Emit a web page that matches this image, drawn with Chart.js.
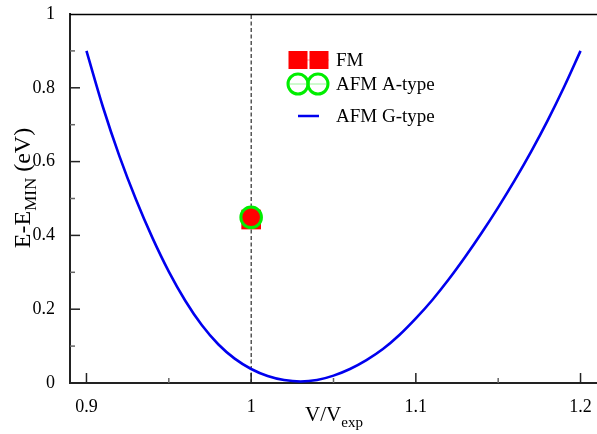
<!DOCTYPE html>
<html>
<head>
<meta charset="utf-8">
<script src="https://cdn.jsdelivr.net/npm/chart.js@4"></script>
<style>
  html, body { margin: 0; padding: 0; overflow: hidden; background: #fff; }
  canvas { display: block; }
</style>
</head>
<body>
<canvas id="eos" width="597" height="434"></canvas>
<script>
// volume ratio and energy
const volRatio = [0.90, 0.91, 0.92, 0.93, 0.94, 0.95, 0.96, 0.97, 0.98, 0.99,
                  1.00, 1.01, 1.02, 1.03, 1.04, 1.05, 1.06, 1.07, 1.08, 1.09,
                  1.10, 1.11, 1.12, 1.13, 1.14, 1.15, 1.16, 1.17, 1.18, 1.19, 1.20];
const gTypeE = [0.900, 0.748, 0.615, 0.498, 0.394, 0.302, 0.223, 0.157, 0.105, 0.066,
                0.038, 0.019, 0.008, 0.004, 0.008, 0.020, 0.038, 0.062, 0.092, 0.130,
                0.175, 0.225, 0.281, 0.342, 0.407, 0.476, 0.549, 0.627, 0.711, 0.802, 0.900];

// single points at the experimental volume
const fmPoint = [1.0, 0.443];
const aTypePoint = [1.0, 0.449];
const expLine = [1.0, 0.0, 1.0];   // x, y from, y to

const xTicks = [0.9, 1.0, 1.1, 1.2];
const xMinor = [0.95, 1.05, 1.15];
const yTicks = [0, 0.2, 0.4, 0.6, 0.8, 1.0];
const yMinor = [0.1, 0.3, 0.5, 0.7, 0.9];

const serif = "'Liberation Serif', 'Times New Roman', serif";

const decor = {
  id: 'decor',
  afterDraw(chart) {
    const ctx = chart.ctx;
    const a = chart.chartArea;
    const xs = chart.scales.x, ys = chart.scales.y;
    ctx.save();

    // top frame line
    ctx.strokeStyle = '#000';
    ctx.lineWidth = 1.5;
    ctx.beginPath();
    ctx.moveTo(a.left, a.top + 0.5);
    ctx.lineTo(a.right, a.top + 0.5);
    ctx.stroke();

    // inward ticks
    function tick(isX, v, len, col) {
      ctx.strokeStyle = col;
      ctx.lineWidth = 1.5;
      ctx.beginPath();
      if (isX) {
        const p = xs.getPixelForValue(v);
        ctx.moveTo(p, a.bottom);
        ctx.lineTo(p, a.bottom - len);
      } else {
        const p = ys.getPixelForValue(v);
        ctx.moveTo(a.left, p);
        ctx.lineTo(a.left + len, p);
      }
      ctx.stroke();
    }
    xTicks.forEach(v => tick(true, v, 10, '#222'));
    xMinor.forEach(v => tick(true, v, 5, '#666'));
    yTicks.slice(1, -1).forEach(v => tick(false, v, 10, '#222'));
    yMinor.forEach(v => tick(false, v, 5, '#666'));

    // axis titles with subscripts
    ctx.fillStyle = '#000';
    ctx.textBaseline = 'alphabetic';
    function subText(parts, x, y) {
      let w = 0;
      parts.forEach(p => { ctx.font = p[1] + 'px ' + serif; w += ctx.measureText(p[0]).width; });
      let cx = x - w / 2;
      parts.forEach(p => {
        ctx.font = p[1] + 'px ' + serif;
        ctx.fillText(p[0], cx, y + p[2]);
        cx += ctx.measureText(p[0]).width;
      });
    }
    subText([['V/V', 21, 0], ['exp', 15, 6]], 334, 421);

    ctx.save();
    ctx.translate(30, 188);
    ctx.rotate(-Math.PI / 2);
    subText([['E-E', 24, 0], ['MIN', 17, 6], [' (eV)', 24, 0]], 0, 0);
    ctx.restore();

    // legend
    const ds = chart.data.datasets;
    const lx = 298, rows = [60, 84, 116];
    ctx.font = '19px ' + serif;
    ctx.textBaseline = 'middle';
    ctx.textAlign = 'left';

    // FM
    ctx.strokeStyle = '#ff9c9c';
    ctx.lineWidth = 1;
    ctx.beginPath(); ctx.moveTo(lx - 9, rows[0]); ctx.lineTo(lx + 31, rows[0]); ctx.stroke();
    ctx.fillStyle = ds[0].backgroundColor;
    [lx, lx + 21].forEach(cx => ctx.fillRect(cx - 9.5, rows[0] - 9, 19, 18));
    // A-type
    ctx.strokeStyle = '#9cf59c';
    ctx.beginPath(); ctx.moveTo(lx - 10, rows[1]); ctx.lineTo(lx + 30, rows[1]); ctx.stroke();
    ctx.strokeStyle = ds[1].borderColor;
    ctx.lineWidth = 3;
    [lx, lx + 20].forEach(cx => { ctx.beginPath(); ctx.arc(cx, rows[1], 10, 0, Math.PI * 2); ctx.stroke(); });
    // G-type
    ctx.strokeStyle = ds[2].borderColor;
    ctx.lineWidth = 2.5;
    ctx.beginPath(); ctx.moveTo(lx, rows[2]); ctx.lineTo(lx + 21, rows[2]); ctx.stroke();

    ctx.fillStyle = '#000';
    ds.slice(0, 3).forEach((d, i) => ctx.fillText(d.label, 336, rows[i] + 1));
    ctx.restore();
  }
};

new Chart(document.getElementById('eos'), {
  type: 'line',
  data: {
    datasets: [
      {
        label: 'FM',
        data: [{ x: fmPoint[0], y: fmPoint[1] }],
        showLine: false,
        pointStyle: 'rect',
        pointRadius: 13.9,
        backgroundColor: '#ff0000',
        borderColor: '#ff0000',
        borderWidth: 0,
        order: 2
      },
      {
        label: 'AFM A-type',
        data: [{ x: aTypePoint[0], y: aTypePoint[1] }],
        showLine: false,
        pointStyle: 'circle',
        pointRadius: 10.3,
        backgroundColor: '#ff0000',
        borderColor: '#00ee00',
        pointBorderWidth: 3,
        order: 1
      },
      {
        label: 'AFM G-type',
        data: volRatio.map((v, i) => ({ x: v, y: gTypeE[i] })),
        borderColor: '#0000ee',
        borderWidth: 2.6,
        pointRadius: 0,
        cubicInterpolationMode: 'monotone',
        fill: false,
        order: 3
      },
      {
        label: 'Vexp',
        data: [{ x: expLine[0], y: expLine[1] }, { x: expLine[0], y: expLine[2] }],
        borderColor: '#000',
        borderWidth: 1,
        borderDash: [4, 2.5],
        pointRadius: 0,
        order: 4
      }
    ]
  },
  options: {
    responsive: false,
    animation: false,
    layout: { autoPadding: false, padding: { left: 0, top: 14, right: 0, bottom: 0 } },
    plugins: { legend: { display: false }, tooltip: { enabled: false } },
    scales: {
      x: {
        type: 'linear',
        min: 0.89,
        max: 1.21,
        afterBuildTicks: s => { s.ticks = xTicks.map(v => ({ value: v })); },
        afterFit: s => { s.height = 51; s.paddingLeft = 0; s.paddingRight = 0; },
        grid: { display: false },
        border: { display: true, color: '#222', width: 2 },
        ticks: {
          color: '#000',
          padding: 5,
          maxRotation: 0,
          font: { family: serif, size: 18 },
          callback: v => String(+v.toFixed(2))
        }
      },
      y: {
        type: 'linear',
        min: 0,
        max: 1,
        afterBuildTicks: s => { s.ticks = yTicks.map(v => ({ value: v })); },
        afterFit: s => { s.width = 70; s.paddingTop = 0; s.paddingBottom = 0; },
        grid: { display: false },
        border: { display: true, color: '#222', width: 2 },
        ticks: {
          color: '#000',
          padding: 7,
          font: { family: serif, size: 18 },
          callback: v => String(+v.toFixed(2))
        }
      }
    }
  },
  plugins: [decor]
});
</script>
</body>
</html>
